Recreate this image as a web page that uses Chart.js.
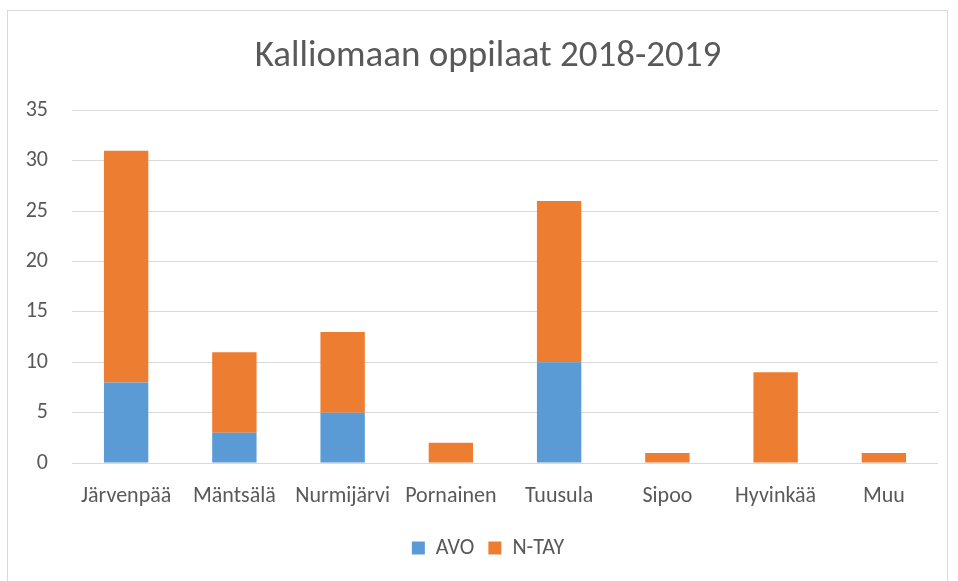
<!DOCTYPE html>
<html><head><meta charset="utf-8">
<script src="https://cdn.jsdelivr.net/npm/chart.js@4"></script>
<style>html,body{margin:0;padding:0;background:#fff}#wrap{width:958px;height:581px}</style>
</head><body><div id="wrap"><canvas id="c" width="958" height="581"></canvas></div>
<script>
const categories = ["Järvenpää","Mäntsälä","Nurmijärvi","Pornainen","Tuusula","Sipoo","Hyvinkää","Muu"];
const avo = [8,3,5,0,10,0,0,0];
const ntay = [23,8,8,2,16,1,9,1];
const yTicks = [0,5,10,15,20,25,30,35];
const FONT = 'Carlito, "Liberation Sans Narrow", "Open Sans", sans-serif';

const borderPlugin = {
  id:'border',
  beforeDraw(chart){
    const ctx = chart.ctx;
    ctx.save();
    ctx.fillStyle='#fff';
    ctx.fillRect(0,0,chart.width,chart.height);
    ctx.strokeStyle='#d9d9d9';
    ctx.lineWidth=1;
    ctx.strokeRect(7.5,10.5,940,575);
    ctx.restore();
  }
};

new Chart(document.getElementById('c'), {
  type:'bar',
  data:{
    labels:categories,
    datasets:[
      {label:'AVO', data:avo, backgroundColor:'#5B9BD5', barPercentage:0.41, categoryPercentage:1},
      {label:'N-TAY', data:ntay, backgroundColor:'#ED7D31', barPercentage:0.41, categoryPercentage:1}
    ]
  },
  options:{
    responsive:false,
    animation:false,
    layout:{padding:{left:10,right:-8,top:20,bottom:12}},
    plugins:{
      title:{display:true,text:'Kalliomaan oppilaat 2018-2019',color:'#595959',
        font:{family:FONT,size:37,weight:'normal'},padding:{top:15,bottom:31}},
      legend:{position:'bottom',
        labels:{color:'#595959',font:{family:FONT,size:22},boxWidth:13,boxHeight:13,padding:14}},
      tooltip:{enabled:false}
    },
    scales:{
      x:{stacked:true,
        grid:{display:false,drawTicks:false},
        border:{display:false},
        ticks:{color:'#595959',font:{family:FONT,size:22},padding:20,maxRotation:0,autoSkip:false},
        afterFit(s){s.height=60;}
      },
      y:{stacked:true,min:0,max:35,
        afterBuildTicks(s){s.ticks=yTicks.map(v=>({value:v}));},
        grid:{color:'#d9d9d9',drawTicks:false,lineWidth:1},
        border:{display:false},
        ticks:{color:'#595959',font:{family:FONT,size:22},padding:24},
        afterFit(s){s.width=62;}
      },
      yRight:{position:'right',display:true,min:0,max:35,
        grid:{display:false,drawTicks:false},
        border:{display:false},
        ticks:{display:false},
        afterFit(s){s.width=28;}
      }
    }
  },
  plugins:[borderPlugin]
});
</script></body></html>
